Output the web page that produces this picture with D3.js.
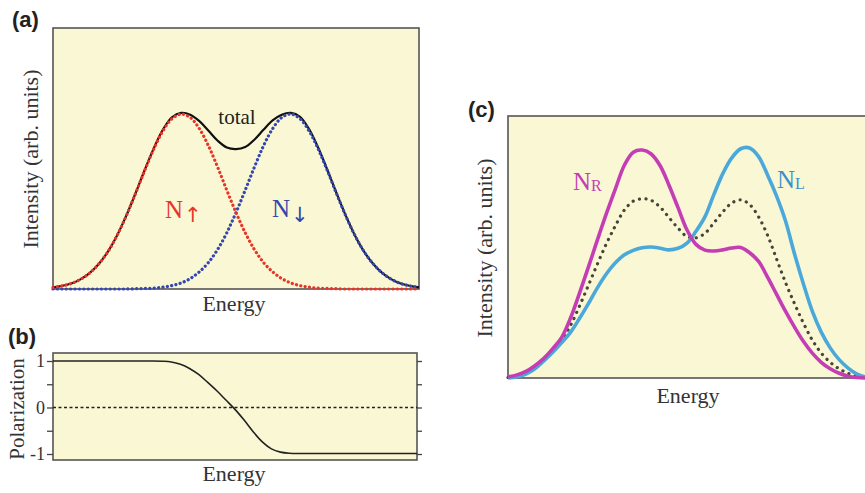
<!DOCTYPE html>
<html><head><meta charset="utf-8">
<script src="https://cdn.jsdelivr.net/npm/d3@7"></script>
<style>body{margin:0;background:#fff} svg{display:block}</style>
</head><body><svg id="chart" width="865" height="493"></svg>
<script>
// ---------- data ----------
const energy = [0,2.5,5,7.5,10,12.5,15,17.5,20,22.5,25,27.5,30,32.5,35,37.5,40,42.5,45,47.5,50,
  52.5,55,57.5,60,62.5,65,67.5,70,72.5,75,77.5,80,82.5,85,87.5,90,92.5,95,97.5,100];

// panel (a): spin-resolved intensities
const nUp = [0.006,0.012,0.021,0.037,0.061,0.096,0.143,0.205,0.280,0.364,0.452,0.535,0.605,0.652,0.670,0.657,0.614,0.548,0.466,0.378,0.293,
  0.216,0.152,0.102,0.066,0.040,0.023,0.013,0.007,0.003,0.002,0.001,0,0,0,0,0,0,0,0,0];
const nDown = [0,0,0,0,0,0,0,0,0,0.001,0.002,0.003,0.007,0.013,0.023,0.040,0.066,0.102,0.152,0.216,0.293,
  0.378,0.466,0.548,0.614,0.657,0.670,0.652,0.605,0.535,0.452,0.364,0.280,0.205,0.143,0.096,0.061,0.037,0.021,0.012,0.006];
const totalA = [0.006,0.012,0.021,0.037,0.061,0.096,0.143,0.205,0.280,0.365,0.454,0.538,0.610,0.658,0.675,0.668,0.643,0.606,0.568,0.542,0.536,
  0.544,0.572,0.610,0.646,0.668,0.675,0.660,0.612,0.540,0.455,0.366,0.281,0.205,0.143,0.096,0.061,0.037,0.021,0.012,0.006];

// panel (b): polarization
const polarization = [1,1,1,1,1,1,1,1,1,1,1,1,0.995,0.98,0.93,0.84,0.71,0.54,0.36,0.16,-0.04,
  -0.27,-0.52,-0.74,-0.89,-0.96,-0.985,-0.99,-0.99,-0.99,-0.99,-0.99,-0.99,-0.99,-0.99,-0.99,-0.99,-0.99,-0.99,-0.99,-0.99];
const polTicks = [-1,-0.5,0,0.5,1];
const polTickLabels = {"1":"1","0":"0","-1":"-1"};

// panel (c): circular-polarization resolved intensities
const nR = [0.004,0.012,0.025,0.047,0.075,0.112,0.155,0.230,0.325,0.425,0.528,0.628,0.722,0.812,0.862,0.870,0.855,0.810,0.735,0.650,0.565,
  0.510,0.488,0.485,0.489,0.496,0.498,0.478,0.445,0.385,0.320,0.255,0.195,0.140,0.095,0.060,0.035,0.018,0.007,0.002,0.000];
const nL = [0.000,0.005,0.015,0.035,0.065,0.098,0.135,0.175,0.228,0.285,0.345,0.398,0.440,0.470,0.487,0.497,0.500,0.495,0.489,0.495,0.515,
  0.560,0.615,0.700,0.780,0.840,0.875,0.878,0.845,0.775,0.695,0.600,0.475,0.360,0.255,0.175,0.115,0.070,0.038,0.015,0.003];
const avgC = [0.002,0.008,0.020,0.041,0.070,0.105,0.145,0.202,0.276,0.355,0.436,0.513,0.581,0.641,0.675,0.684,0.678,0.652,0.612,0.572,0.540,
  0.535,0.552,0.592,0.634,0.668,0.680,0.662,0.615,0.545,0.455,0.365,0.285,0.210,0.145,0.095,0.060,0.035,0.018,0.006,0.001];

// ---------- styling ----------
const BG = "#faf8d4", FRAME = "#555";
const serif = '"Liberation Serif","Times New Roman",serif';
const sans = '"Liberation Sans",Arial,sans-serif';
const svg = d3.select("#chart");
const defs = svg.append("defs");

function clip(id, x, y, w, h) {
  defs.append("clipPath").attr("id", id).append("rect").attr("x", x).attr("y", y).attr("width", w).attr("height", h);
}
function series(vals) { return energy.map((e, i) => [e, vals[i]]); }

// ================= Panel (a) =================
const xA = d3.scaleLinear().domain([0, 100]).range([53, 419]);
const yA = d3.scaleLinear().domain([0, 1]).range([289, 28]);
svg.append("rect").attr("x", 53).attr("y", 28).attr("width", 366).attr("height", 261)
  .attr("fill", BG).attr("stroke", FRAME).attr("stroke-width", 1.6);
clip("clipA", 50, 28, 372, 264);
const lineA = d3.line().x(d => xA(d[0])).y(d => yA(d[1])).curve(d3.curveCatmullRom.alpha(0.5));
const gA = svg.append("g").attr("clip-path", "url(#clipA)");
gA.append("path").attr("d", lineA(series(totalA))).attr("fill", "none").attr("stroke", "#111").attr("stroke-width", 2.2);
gA.append("path").attr("d", lineA(series(nDown))).attr("fill", "none").attr("stroke", "#3546b0")
  .attr("stroke-width", 3.2).attr("stroke-linecap", "round").attr("stroke-dasharray", "0.1,4.3");
gA.append("path").attr("d", lineA(series(nUp))).attr("fill", "none").attr("stroke", "#e8352b")
  .attr("stroke-width", 3.2).attr("stroke-linecap", "round").attr("stroke-dasharray", "0.1,4.3");

svg.append("text").attr("x", 12).attr("y", 27).attr("font-family", sans).attr("font-weight", "bold")
  .attr("font-size", 22).attr("fill", "#222").text("(a)");
svg.append("text").attr("transform", "translate(38,159) rotate(-90)").attr("text-anchor", "middle")
  .attr("font-family", serif).attr("font-size", 22).attr("fill", "#333").text("Intensity (arb. units)");
svg.append("text").attr("x", 234).attr("y", 311).attr("text-anchor", "middle")
  .attr("font-family", serif).attr("font-size", 22).attr("fill", "#333").text("Energy");
svg.append("text").attr("x", 237).attr("y", 124).attr("text-anchor", "middle")
  .attr("font-family", serif).attr("font-size", 21).attr("fill", "#222").text("total");
const tUp = svg.append("text").attr("x", 165).attr("y", 218).attr("font-family", serif).attr("fill", "#e8352b");
tUp.append("tspan").attr("font-size", 25).text("N");
tUp.append("tspan").attr("font-family", '"DejaVu Sans",sans-serif').attr("font-size", 21).attr("dx", 1).attr("dy", 4).text("↑");
const tDn = svg.append("text").attr("x", 272).attr("y", 217).attr("font-family", serif).attr("fill", "#3546a8");
tDn.append("tspan").attr("font-size", 25).text("N");
tDn.append("tspan").attr("font-family", '"DejaVu Sans",sans-serif').attr("font-size", 21).attr("dx", 1).attr("dy", 5).text("↓");

// ================= Panel (b) =================
const xB = d3.scaleLinear().domain([0, 100]).range([53, 417]);
const yB = d3.scaleLinear().domain([-1, 1]).range([454, 361]);
svg.append("rect").attr("x", 53).attr("y", 353).attr("width", 364).attr("height", 107)
  .attr("fill", BG).attr("stroke", FRAME).attr("stroke-width", 1.6);
const axL = svg.append("g").attr("transform", "translate(53,0)")
  .call(d3.axisLeft(yB).tickValues(polTicks).tickSize(6).tickPadding(2)
    .tickFormat(d => polTickLabels[String(d)] || ""));
axL.select(".domain").remove();
axL.selectAll("line").attr("stroke", "#444").attr("stroke-width", 1.3);
axL.selectAll("text").attr("font-family", serif).attr("font-size", 18).attr("fill", "#333");
const axR = svg.append("g").attr("transform", "translate(417,0)")
  .call(d3.axisRight(yB).tickValues(polTicks).tickSize(5).tickFormat(""));
axR.select(".domain").remove();
axR.selectAll("line").attr("stroke", "#444").attr("stroke-width", 1.3);

svg.append("line").attr("x1", xB(0)).attr("x2", xB(100)).attr("y1", yB(0)).attr("y2", yB(0))
  .attr("stroke", "#222").attr("stroke-width", 1.5).attr("stroke-dasharray", "3,2.5");
const lineB = d3.line().x(d => xB(d[0])).y(d => yB(d[1])).curve(d3.curveCatmullRom.alpha(0.5));
svg.append("path").attr("d", lineB(series(polarization))).attr("fill", "none")
  .attr("stroke", "#222").attr("stroke-width", 1.6);

svg.append("text").attr("x", 8).attr("y", 344).attr("font-family", sans).attr("font-weight", "bold")
  .attr("font-size", 22).attr("fill", "#222").text("(b)");
svg.append("text").attr("transform", "translate(24,409) rotate(-90)").attr("text-anchor", "middle")
  .attr("font-family", serif).attr("font-size", 21).attr("fill", "#333").text("Polarization");
svg.append("text").attr("x", 234).attr("y", 481).attr("text-anchor", "middle")
  .attr("font-family", serif).attr("font-size", 22).attr("fill", "#333").text("Energy");

// ================= Panel (c) =================
const xC = d3.scaleLinear().domain([0, 100]).range([508, 866]);
const yC = d3.scaleLinear().domain([0, 1]).range([378, 116]);
svg.append("rect").attr("x", 508).attr("y", 116).attr("width", 370).attr("height", 262)
  .attr("fill", BG).attr("stroke", FRAME).attr("stroke-width", 1.6);
clip("clipC", 506, 116, 370, 264);
const lineC = d3.line().x(d => xC(d[0])).y(d => yC(d[1])).curve(d3.curveCatmullRom.alpha(0.5));
const gC = svg.append("g").attr("clip-path", "url(#clipC)");
gC.append("path").attr("d", lineC(series(avgC))).attr("fill", "none").attr("stroke", "#45453a")
  .attr("stroke-width", 3.2).attr("stroke-linecap", "round").attr("stroke-dasharray", "0.1,6.5");
gC.append("path").attr("d", lineC(series(nL))).attr("fill", "none").attr("stroke", "#4aa8da").attr("stroke-width", 3.6);
gC.append("path").attr("d", lineC(series(nR))).attr("fill", "none").attr("stroke", "#c43db4").attr("stroke-width", 3.6);

svg.append("text").attr("x", 468).attr("y", 117).attr("font-family", sans).attr("font-weight", "bold")
  .attr("font-size", 22).attr("fill", "#222").text("(c)");
svg.append("text").attr("transform", "translate(492,248) rotate(-90)").attr("text-anchor", "middle")
  .attr("font-family", serif).attr("font-size", 22).attr("fill", "#333").text("Intensity (arb. units)");
svg.append("text").attr("x", 688).attr("y", 403).attr("text-anchor", "middle")
  .attr("font-family", serif).attr("font-size", 22).attr("fill", "#333").text("Energy");
const tR = svg.append("text").attr("x", 573).attr("y", 190).attr("font-family", serif).attr("fill", "#c43db4");
tR.append("tspan").attr("font-size", 25).text("N");
tR.append("tspan").attr("font-size", 16).attr("dy", 1).text("R");
const tL = svg.append("text").attr("x", 777).attr("y", 188).attr("font-family", serif).attr("fill", "#3a92cc");
tL.append("tspan").attr("font-size", 25).text("N");
tL.append("tspan").attr("font-size", 16).attr("dy", 1).text("L");
</script></body></html>
